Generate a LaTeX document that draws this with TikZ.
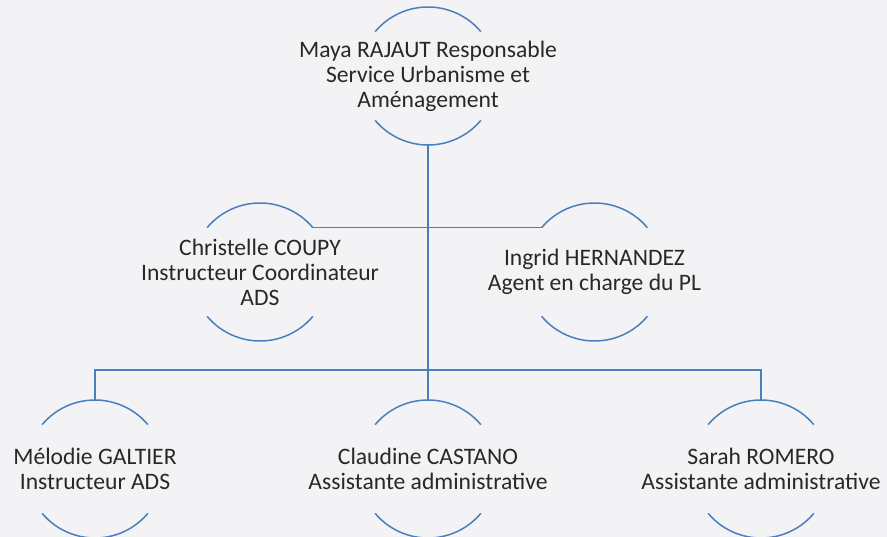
\documentclass[tikz,border=0pt]{standalone}
\usepackage{fontspec}
\setmainfont{Carlito}
\usetikzlibrary{calc}
\definecolor{orgblue}{RGB}{74,126,189}
\definecolor{orgback}{RGB}{243,243,246}
\definecolor{orgtext}{RGB}{40,40,40}
\tikzset{
  orgline/.style={draw=orgblue, line width=1.5pt},
  person/.style={align=center, inner sep=0pt, text=orgtext,
    font=\fontsize{23.6}{25}\selectfont},
}
% two arcs round a person, with named points on them
\def\personarcs#1{%
  \coordinate (#1-top) at ($(#1.center)+(90:69)$);
  \coordinate (#1-bot) at ($(#1.center)+(270:69)$);
  \coordinate (#1-tl) at ($(#1.center)+(140:69)$);
  \coordinate (#1-tr) at ($(#1.center)+(40:69)$);
  \draw[orgline] (#1-tr) arc (40:140:69);
  \draw[orgline] ($(#1.center)+(220:69)$) arc (220:320:69);
}

\begin{document}
\begin{tikzpicture}[x=1pt, y=1pt]
	%%%%% START %%%%%
	
	\fill[orgback] (0,0) rectangle (887,-537);
	\useasboundingbox (0,0) rectangle (887,-537);
	
	\node[person] (maya) at (428,-76) {Maya RAJAUT Responsable\\Service Urbanisme et\\Aménagement};
	\node[person] (christelle) at (260,-272) {Christelle COUPY\\Instructeur Coordinateur\\ADS};
	\node[person] (ingrid) at (594.5,-272) {Ingrid HERNANDEZ\\Agent en charge du PL};
	\node[person] (melodie) at (95,-469) {Mélodie GALTIER\\Instructeur ADS};
	\node[person] (claudine) at (428,-469) {Claudine CASTANO\\Assistante administrative};
	\node[person] (sarah) at (761,-469) {Sarah ROMERO\\Assistante administrative};
	
	\personarcs{maya}
	\personarcs{christelle}
	\personarcs{ingrid}
	\personarcs{melodie}
	\personarcs{claudine}
	\personarcs{sarah}
	
	\coordinate (bus) at (428,-370);
	
	\draw[orgline] (maya-bot) -- (claudine-top);
	\draw[orgline] (christelle-tr) -- (ingrid-tl);
	\draw[orgline] (melodie-top) -- (melodie-top |- bus) -- (sarah-top |- bus) -- (sarah-top);
	
	%%%%% END %%%%%
\end{tikzpicture}
\end{document}
